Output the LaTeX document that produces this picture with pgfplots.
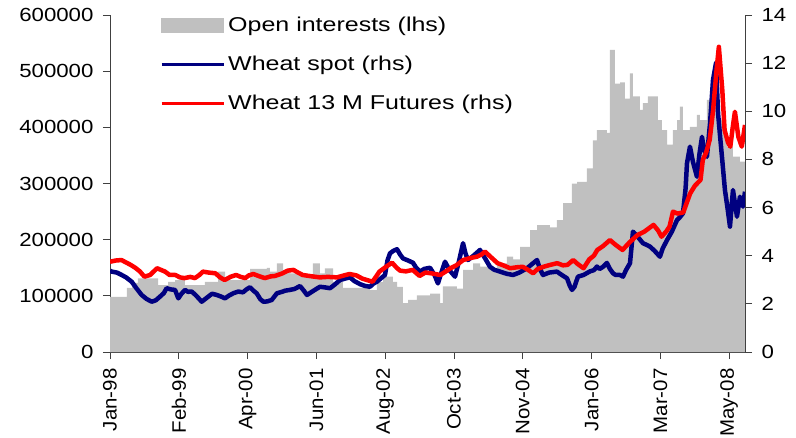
\documentclass[border=0pt]{standalone}
\usepackage{fontspec}
\setmainfont[FakeStretch=1.17]{Liberation Sans}
\newfontfamily\legfont[FakeStretch=1.25]{Liberation Sans}
\newfontfamily\rotfont[FakeStretch=1.05]{Liberation Sans}
\usepackage{pgfplots}
\pgfplotsset{compat=1.18}
\definecolor{oigray}{HTML}{C0C0C0}
\definecolor{spotblue}{HTML}{000080}
\definecolor{futred}{HTML}{FF0000}
\definecolor{axgray}{HTML}{404040}
\pgfplotsset{base/.style={width=635pt,height=337pt,scale only axis,
  xmin=0,xmax=553.8,at={(110pt,85pt)},anchor=south west,
  axis line style={axgray,line width=0.8pt,-},
  tick style={axgray,line width=0.8pt},major tick length=7pt,tick align=outside,
  /pgf/number format/assume math mode=true,
  yticklabel shift=6pt,
  ticklabel style={font=\fontsize{19}{19}\selectfont}}}
\begin{document}
\begin{tikzpicture}
\path[use as bounding box] (0pt,0pt) rectangle (796pt,437pt);
\begin{axis}[base,
  axis x line*=bottom, axis y line*=left,
  ymin=0,ymax=600000,
  ytick={0,100000,200000,300000,400000,500000,600000},
  scaled y ticks=false,
  yticklabel style={/pgf/number format/fixed,/pgf/number format/1000 sep={}},
  xtick={0,60,120,180,240,300,360,420,480,540},
  xticklabels={Jan-98,Feb-99,Apr-00,Jun-01,Aug-02,Oct-03,Nov-04,Jan-06,Mar-07,May-08},
  xticklabel shift=6pt,
  xticklabel style={rotate=90,anchor=east,font=\rotfont\fontsize{19.5}{19.5}\selectfont}]
\addplot[const plot,fill=oigray,draw=none] coordinates {
(0,98000)(14.8,114000)(19.2,123000)(24.4,131000)(41.9,119000)(50.6,125000)
(56.7,128000)(65.4,119000)(82.8,125000)(94.2,143000)(100.3,128000)(122.1,148000)
(136.9,150000)(139.5,143000)(145.6,158000)(150.9,145000)(157.0,140000)(165.7,135000)
(177.0,158000)(183.1,140000)(187.5,149000)(194.5,125000)(203.2,114000)(226.7,110000)
(232.8,125000)(238.1,134000)(246.8,125000)(250.3,116000)(255.5,87000)(259.9,93000)
(267.7,101000)(279.1,104000)(287.8,87000)(290.4,117000)(302.6,113000)(307.9,146000)
(316.6,158000)(322.7,152000)(331.4,146000)(337.5,158000)(346.2,170000)(351.5,165000)
(357.6,187000)(366.3,217000)(372.4,226000)(383.7,222000)(389.8,235000)(395.1,265000)
(402.9,300000)(407.3,303000)(416.0,327000)(421.2,377000)(424.7,395000)(433.4,390000)
(436.0,538000)(440.4,478000)(444.8,480000)(449.1,451000)(453.5,496000)(456.1,455000)
(462.2,431000)(464.8,443000)(469.2,455000)(477.9,413000)(481.4,395000)(485.8,369000)
(491.0,395000)(494.5,413000)(497.1,437000)(499.7,395000)(505.8,401000)(511.9,422000)
(514.5,413000)(520.6,449000)(523.3,460000)(527.6,455000)(530.3,413000)(534.6,390000)
(538.1,365000)(543.3,348000)(549.4,339000)(553.8,339000)} \closedcycle;
\end{axis}
\begin{axis}[base,
  axis y line*=right, axis x line=none,
  ymin=0,ymax=14,ytick={0,2,4,6,8,10,12,14},
  legend style={at={(axis description cs:0.0787,1.003)},anchor=north west,
    draw=none,fill=none,inner sep=0pt,row sep=17pt,
    font=\legfont\fontsize{20}{20}\selectfont,
    nodes={inner sep=3pt}},
  legend cell align=left]
\addlegendimage{legend image code/.code={\fill[oigray] (0pt,-7pt) rectangle (62pt,7pt);}}
\addlegendentry{Open interests (lhs)}
\addplot[spotblue,line width=4.5pt,line join=round,
  legend image code/.code={\draw[spotblue,line width=3pt] (0pt,0pt)--(62pt,0pt);}] coordinates {
(0,3.38)(1.5,3.34)(6,3.30)(10.2,3.20)(14,3.10)(18.9,2.92)(23,2.65)(27.6,2.37)(32,2.20)
(36.4,2.09)(40,2.15)(43.6,2.30)(47,2.45)(49.4,2.65)(53,2.60)(56.7,2.58)(59.6,2.23)
(62,2.40)(65.4,2.58)(68,2.50)(71.3,2.51)(75,2.35)(80,2.09)(83,2.20)(85.7,2.30)
(89,2.42)(93.1,2.37)(97,2.30)(100.3,2.23)(104,2.35)(108,2.45)(111.9,2.51)(116,2.48)
(119,2.60)(122.1,2.69)(125,2.55)(127.9,2.44)(131,2.20)(133.7,2.09)(137,2.10)(141,2.16)
(145.6,2.44)(150,2.50)(153,2.55)(157,2.58)(161,2.62)(165.7,2.74)(169,2.55)(171.8,2.37)
(176,2.50)(180,2.62)(183.1,2.71)(188,2.68)(191.9,2.65)(196,2.80)(200.6,2.99)(205,3.05)
(209.3,3.10)(213,2.95)(218,2.82)(222,2.75)(226.7,2.71)(230,2.85)(232.8,2.92)(236,3.05)
(239.8,3.20)(242,3.80)(244.2,4.10)(247,4.20)(250.3,4.27)(253,4.05)(255.5,3.89)(260,3.80)
(264.2,3.71)(267,3.50)(270.3,3.34)(274,3.45)(279.1,3.50)(283,3.20)(286,2.85)(289,3.30)
(292.2,3.75)(296,3.40)(300.9,3.13)(304,3.70)(307.9,4.52)(310,4.10)(312.2,3.82)(317,4.00)
(322.7,4.24)(327,3.90)(331.4,3.54)(335,3.42)(340.1,3.34)(346,3.25)(351.5,3.20)(357,3.30)
(363.7,3.48)(368,3.65)(372.4,3.82)(375,3.45)(377.6,3.20)(383,3.30)(389.8,3.34)(394,3.20)
(398.6,3.06)(401,2.75)(402.9,2.58)(405,2.70)(408.1,3.13)(413,3.20)(418.6,3.35)(422,3.40)
(424.7,3.55)(427,3.45)(430,3.54)(433.4,3.70)(436,3.45)(438.7,3.27)(441,3.20)(444.8,3.20)
(447.4,3.13)(450,3.40)(453.5,3.69)(456.1,5.00)(460,4.80)(464.8,4.52)(468,4.45)(470.9,4.38)
(475,4.20)(479.6,3.96)(482,4.30)(485.8,4.65)(490,5.00)(494.5,5.48)(497,5.60)(499.7,5.76)
(502,6.80)(503.2,7.84)(505.8,8.53)(508.4,7.90)(511.9,7.28)(514,8.20)(516.3,8.94)(518,8.40)
(520.6,8.11)(523.3,9.50)(525.9,11.30)(528.5,12.00)(530.3,9.92)(532,9.00)(533.7,8.11)
(536.3,6.73)(538.5,6.00)(540.7,5.21)(543.3,6.73)(546.8,5.62)(549.4,6.45)(552,6.04)(553.8,6.66)};
\addlegendentry{Wheat spot (rhs)}
\addplot[futred,line width=4.5pt,line join=round,
  legend image code/.code={\draw[futred,line width=3pt] (0pt,0pt)--(62pt,0pt);}] coordinates {
(0,3.75)(5,3.80)(10,3.82)(14,3.72)(18,3.62)(22,3.50)(26,3.35)(30,3.13)(35,3.20)(41,3.48)
(44,3.42)(48,3.34)(52,3.20)(57,3.20)(61,3.10)(65,3.07)(70,3.12)(74,3.07)(78,3.20)(81,3.34)
(86,3.30)(92,3.27)(96,3.10)(100,2.99)(105,3.12)(110,3.20)(114,3.12)(118,3.07)(121,3.18)
(125,3.24)(130,3.15)(135,3.07)(140,3.14)(144,3.16)(150,3.26)(155,3.38)(160,3.41)(164,3.30)
(168,3.20)(175,3.15)(183,3.10)(190,3.12)(198,3.10)(204,3.18)(209,3.24)(215,3.18)(220,3.05)
(224,2.99)(229,2.92)(235,3.34)(241,3.55)(246,3.71)(250,3.50)(253,3.38)(258,3.35)(264,3.41)
(270,3.16)(275,3.30)(280,3.27)(288,3.20)(293,3.35)(297,3.48)(302,3.60)(308,3.82)(314,3.90)
(320,3.96)(324,4.05)(327,4.17)(332,3.95)(338,3.69)(343,3.60)(349,3.48)(355,3.52)(360,3.54)
(365,3.40)(369,3.27)(373,3.45)(378,3.54)(384,3.62)(390,3.69)(395,3.60)(399,3.62)(404,3.82)
(408,3.65)(413,3.48)(418,3.85)(422,4.00)(425,4.24)(430,4.40)(436,4.65)(441,4.45)(447,4.24)
(453,4.55)(460,4.86)(466,5.00)(474,5.28)(478,5.05)(481,4.79)(485,5.00)(488,5.21)(491,5.83)
(495,5.75)(500,5.80)(503,6.20)(506,6.59)(510,6.90)(515,7.15)(517,7.98)(520,8.30)(523,8.81)
(526,10.05)(529,11.72)(531,12.68)(534,10.88)(536,9.22)(539,8.70)(541,8.53)(543,9.30)
(545,9.98)(548,8.94)(551,8.53)(553.8,9.43)};
\addlegendentry{Wheat 13 M Futures (rhs)}
\end{axis}
\end{tikzpicture}
\end{document}
